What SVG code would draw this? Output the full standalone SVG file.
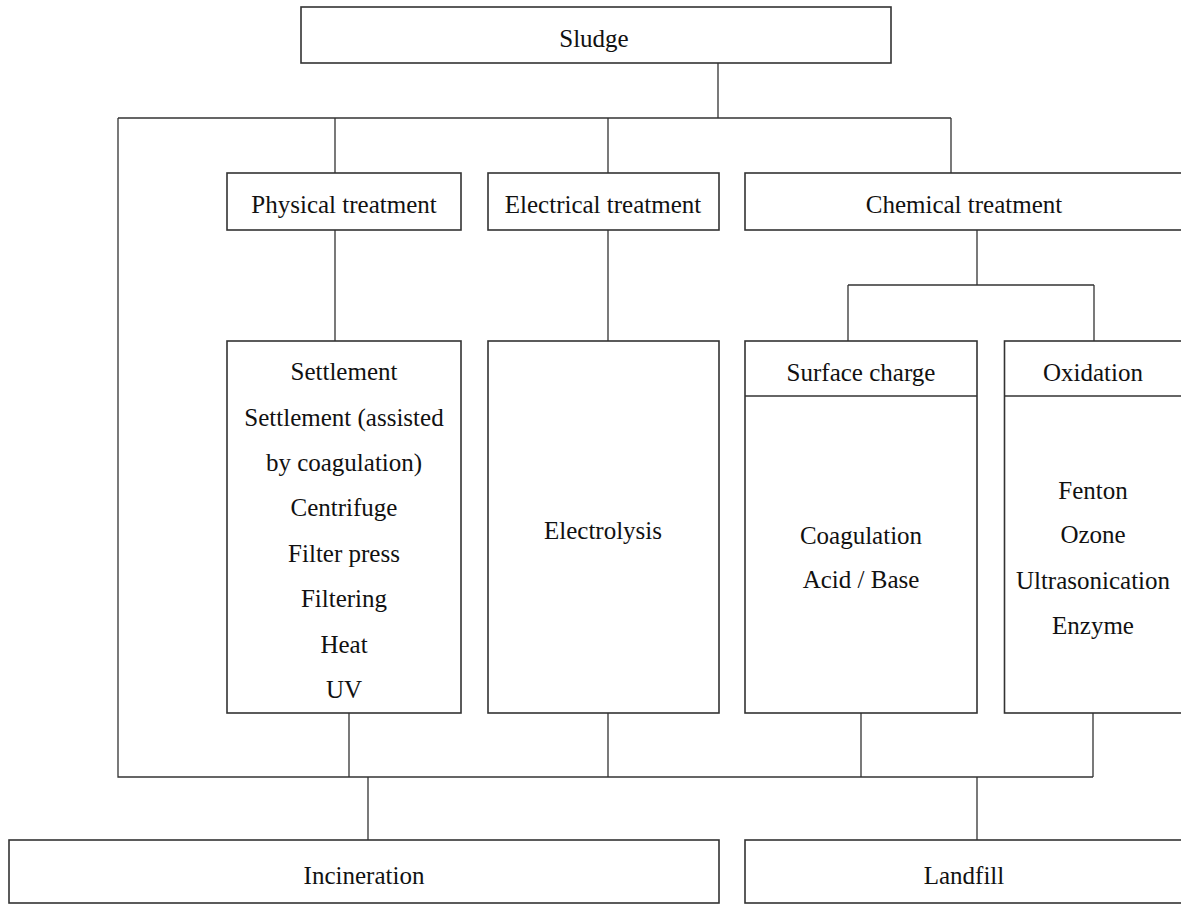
<svg xmlns="http://www.w3.org/2000/svg" width="1181" height="904" viewBox="0 0 1181 904">
<style>
.box{fill:#fff;stroke:#333;stroke-width:1.6}
.ln{fill:none;stroke:#333;stroke-width:1.3}
text{font-family:"Liberation Serif","Times New Roman",serif;font-size:25px;fill:#111;text-anchor:middle}
</style>
<rect width="1181" height="904" fill="#fff"/>
<g id="connectors" class="ln">
<path d="M718 63V118M118 118H951M335 118V173M608 118V173M951 118V173"/>
<path d="M118 118V777H1093"/>
<path d="M335 230V341M608 230V341"/>
<path d="M977 230V285M848 285H1094M848 285V341M1094 285V341"/>
<path d="M349 713V777M608 713V777M861 713V777M1093 713V777"/>
<path d="M368 777V840M977 777V840"/>
</g>
<g id="sludge"><rect class="box" x="301" y="7" width="590" height="56"/><text x="594" y="47">Sludge</text></g>
<g id="physical"><rect class="box" x="227" y="173" width="234" height="57"/><text x="344" y="213">Physical treatment</text></g>
<g id="electrical"><rect class="box" x="488" y="173" width="231" height="57"/><text x="603" y="213">Electrical treatment</text></g>
<g id="chemical"><rect class="box" x="745" y="173" width="440" height="57"/><text x="964" y="213">Chemical treatment</text></g>
<g id="physical-methods"><rect class="box" x="227" y="341" width="234" height="372"/>
<text x="344" y="380">Settlement</text>
<text x="344" y="425.5">Settlement (assisted</text>
<text x="344" y="471">by coagulation)</text>
<text x="344" y="516">Centrifuge</text>
<text x="344" y="562">Filter press</text>
<text x="344" y="607">Filtering</text>
<text x="344" y="652.5">Heat</text>
<text x="344" y="698">UV</text>
</g>
<g id="electrical-methods"><rect class="box" x="488" y="341" width="231" height="372"/><text x="603" y="539">Electrolysis</text></g>
<g id="surface-charge"><rect class="box" x="745" y="341" width="232" height="372"/><line class="box" x1="745" y1="396" x2="977" y2="396"/>
<text x="861" y="381">Surface charge</text>
<text x="861" y="544">Coagulation</text>
<text x="861" y="588">Acid / Base</text>
</g>
<g id="oxidation"><rect class="box" x="1004.5" y="341" width="180" height="372"/><line class="box" x1="1004.5" y1="396" x2="1185" y2="396"/>
<text x="1093" y="381">Oxidation</text>
<text x="1093" y="499">Fenton</text>
<text x="1093" y="543">Ozone</text>
<text x="1093" y="589">Ultrasonication</text>
<text x="1093" y="634">Enzyme</text>
</g>
<g id="incineration"><rect class="box" x="9" y="840" width="710" height="63"/><text x="364" y="884">Incineration</text></g>
<g id="landfill"><rect class="box" x="745" y="840" width="440" height="63"/><text x="964" y="884">Landfill</text></g>
</svg>
